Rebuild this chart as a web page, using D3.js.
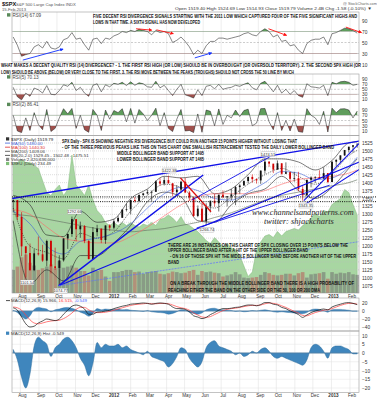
<!DOCTYPE html>
<html>
<head>
<meta charset="utf-8">
<script src="https://cdn.jsdelivr.net/npm/d3@7"></script>
<style>
  body { margin: 0; background: #fff; }
  svg { display: block; font-family: "Liberation Sans", Arial, sans-serif; }
</style>
</head>
<body>
<div id="chart"></div>
<script>
// Weekly samples (Fridays), Jul 2011 - Feb 2013
const weeks = d3.timeFriday.range(new Date(2011, 6, 22), new Date(2013, 1, 16));

const spxFirstOpen = 1340;
const spxHigh = [1347,1345,1307,1199,1208,1190,1230,1204,1220,1220, 1195,1171,1224,1239,1293,1285,1277,1266,1219,1260,
  1267,1255,1265,1269,1285,1296,1316,1334,1346,1355, 1363,1368,1378,1375,1407,1414,1419,1422,1398,1392,
  1406,1415,1374,1356,1328,1335,1335,1343,1364,1362, 1375,1357,1380,1390,1395,1407,1419,1426,1413,1438,
  1475,1468,1457,1470,1461,1464,1434,1434,1434,1389, 1409,1420,1420,1439,1448,1430,1467,1473,1486,1503, 1514,1518,1525];
const spxLow = [1306,1282,1168,1101,1122,1121,1170,1150,1136,1114, 1125,1075,1151,1191,1229,1215,1226,1209,1158,1159,
  1231,1209,1207,1248,1253,1275,1290,1309,1300,1337, 1340,1357,1363,1341,1371,1390,1391,1397,1358,1357,
  1367,1367,1343,1292,1291,1277,1267,1306,1324,1309, 1351,1325,1345,1329,1365,1391,1397,1400,1397,1396,
  1428,1450,1430,1441,1425,1427,1403,1403,1373,1343, 1363,1385,1399,1411,1412,1398,1402,1451,1462,1484, 1495,1495,1510];
const spxClose = [1345,1292,1199,1178,1124,1177,1174,1154,1216,1136, 1131,1155,1224,1238,1285,1253,1263,1216,1159,1244,
  1255,1219,1265,1258,1278,1289,1315,1316,1345,1342, 1361,1366,1370,1371,1404,1397,1408,1398,1370,1378,
  1403,1369,1353,1295,1318,1278,1325,1343,1335,1362, 1354,1357,1363,1386,1391,1405,1418,1411,1407,1438,
  1466,1460,1441,1461,1428,1433,1412,1414,1380,1360, 1409,1416,1418,1413,1430,1402,1466,1472,1486,1503, 1513,1518,1520];
const volumeB = [4.2,4.8,6.5,7.0,5.5,5.0,4.2,4.5,4.8,5.2, 4.5,5.8,4.6,4.8,5.0,4.6,4.0,4.0,3.2,4.6,
  4.0,4.2,3.0,2.2,3.8,3.8,4.0,4.2,4.2,3.8, 3.9,3.5,3.8,3.9,4.0,3.5,3.4,3.6,3.9,3.8,
  3.6,3.7,4.0,4.2,3.3,4.0,3.8,3.9,3.7,3.6, 3.0,3.2,3.4,3.8,3.4,2.8,2.7,2.8,2.9,3.3,
  3.8,3.6,3.3,3.2,3.3,3.5,3.5,3.2,3.6,3.8, 2.8,3.4,3.5,3.6,3.8,2.6,3.8,3.5,3.7,3.6, 3.8,3.4,3.3];
const overlayGreen = [87,87,89,87,87,85,83,75,67,65, 69,72,65,69,92,72,69,65,72,62,
  55,52,47,45,47,45,47,45,47,45, 44,46,45,47,45,49,50,52,50,47,
  51,46,45,43,41,38,35,33,37,34, 31,33,30,29,25,18,11,14,29,34,
  38,39,37,41,38,41,42,43,42,45, 47,50,53,51,55,54,59,61,63,69, 67,59,52];

// moving averages and bands, every fourth week
const maIdx = [0,4,8,12,16,20,24,28,32,36,40,44,48,52,56,60,64,68,72,76,80,82];
const ma50  = [1310,1270,1200,1175,1215,1225,1240,1270,1320,1365,1385,1375,1350,1345,1370,1400,1435,1430,1410,1415,1450,1480];
const ma100 = [1315,1300,1260,1225,1215,1210,1210,1230,1260,1295,1330,1355,1365,1365,1365,1375,1395,1410,1415,1420,1430,1440];
const ma200 = [1300,1295,1285,1275,1265,1255,1250,1245,1250,1255,1265,1275,1290,1305,1325,1345,1360,1370,1380,1390,1400,1409];
const bbUpper = [1360,1330,1235,1230,1310,1275,1285,1350,1380,1420,1415,1420,1365,1380,1425,1475,1475,1465,1440,1470,1525,1529];
const bbMid   = [1320,1200,1180,1160,1240,1225,1245,1310,1360,1395,1385,1340,1320,1355,1395,1425,1445,1420,1395,1430,1485,1502];
const bbLower = [1280,1080,1125,1090,1170,1170,1210,1265,1340,1370,1355,1280,1275,1330,1365,1380,1420,1375,1350,1385,1445,1475];

const rsi14 = [60,45,25,28,30,42,46,40,52,40, 38,42,55,58,68,56,58,46,36,56,
  58,48,58,56,62,65,70,68,72,70, 74,72,70,64,72,68,70,66,50,54,
  60,52,42,28,36,30,44,52,52,58, 58,56,58,60,62,66,68,64,62,70,
  75,70,60,64,52,54,44,46,36,30, 48,54,56,56,60,46,66,68,72,76, 75,72,67];
const rsi5 = [58,20,8,35,22,55,48,35,65,30, 28,45,68,62,78,45,58,35,22,66,
  72,40,68,60,74,70,78,65,80,66, 76,72,60,58,82,56,66,45,25,50,
  70,28,22,15,48,25,62,66,52,70, 50,55,58,66,62,70,76,56,48,74,
  82,62,40,66,35,50,30,45,25,18, 72,60,58,55,66,25,78,72,80,82, 78,66,70];
const rsi2 = [70,10,4,60,12,80,35,15,92,8, 20,60,95,75,96,20,70,15,5,92,
  70,12,90,55,88,80,95,45,96,40, 92,75,50,70,97,30,80,20,8,55,
  92,10,12,4,75,5,90,85,30,94, 35,70,60,90,65,88,93,30,40,95,
  96,45,15,80,12,50,10,55,8,5, 95,70,60,35,85,6,97,80,94,95, 90,60,86];

const macdLine = [8,2,-15,-32,-40,-38,-30,-25,-20,-22, -24,-20,-8,2,12,15,12,5,-8,-8,
  -3,-2,0,2,6,9,12,14,17,18, 19,20,19,17,19,20,19,17,10,6,
  6,4,-2,-12,-15,-19,-16,-9,-4,2, 6,6,7,9,10,13,15,15,13,16,
  21,21,17,15,9,6,0,-4,-9,-16, -10,-4,0,3,5,3,10,14,17,20, 21,19,16];
const macdSignal = [10,8,2,-10,-22,-30,-32,-30,-27,-25, -24,-23,-19,-13,-5,4,9,9,3,-2,
  -4,-4,-3,-1,2,5,8,11,14,16, 17,18,19,18,18,19,19,18,15,11,
  8,6,2,-5,-10,-15,-16,-14,-9,-4, 1,4,6,7,9,11,13,14,14,15,
  18,20,19,17,13,9,4,-1,-5,-11, -12,-8,-4,-1,2,3,6,10,14,17, 19,19,17];
const macdHist = [2,-4,-14,-20,-12,4,9,7,5,-2, 3,5,8,9,7,3,-3,-7,-13,-6,
  6,3,5,4,4,5,3,4,2,1, 0,-1,1,-2,-3,-4,-5,-8,-6,-2,
  3,2,-3,-6,-8,-5,3,6,7,4, 3,2,1,-1,0,-2,-1,1,0,2,
  3,1,-2,-3,-2,-3,-4,-5,-6,-7, -4,3,5,4,1,-3,3,4,4,3, 2,-0.5,-0.5];

// tick labels
const rsiTicks = [90, 70, 50, 30, 10];
const priceTicks = d3.range(1075, 1526, 25);
const macdTicks = [20, 0, -20, -40];
const histTicks = [10, 5, 0, -5, -10, -15, -20];

// annotations in data units
const rsiArrows = [
  { from: ['2011-08-05', 18], to: ['2011-10-11', 38], color: 'blue' },
  { from: ['2012-02-10', 75], to: ['2012-03-07', 72.5], color: 'red' },
  { from: ['2012-03-15', 73], to: ['2012-04-12', 66], color: 'red' },
  { from: ['2012-05-18', 22], to: ['2012-06-15', 31], color: 'blue' },
  { from: ['2012-09-18', 75], to: ['2012-10-18', 63], color: 'red' },
  { from: ['2013-01-25', 78], to: ['2013-02-20', 68], color: 'red' }
];
const trendLines = [
  { from: ['2011-07-18', 1350], to: ['2013-02-20', 1532], color: '#1010e8', w: 1.3 },
  { from: ['2011-10-04', 1075], to: ['2012-06-01', 1424], color: '#1010e8', w: 1.5 },
  { from: ['2011-10-04', 1075], to: ['2013-02-20', 1468], color: '#1010e8', w: 1.1 },
  { from: ['2011-10-04', 1075], to: ['2013-02-20', 1215], color: '#6070ff', w: 0.7, dash: '2,1' },
  { from: ['2012-05-13', 1345], to: ['2012-09-20', 1481], color: '#1010e8', w: 0.9 },
  { from: ['2012-05-21', 1257], to: ['2012-12-29', 1392], color: '#1010e8', w: 0.9 },
  { from: ['2012-11-16', 1343], to: ['2013-02-20', 1531], color: '#1010e8', w: 1.1 },
  { from: ['2012-11-10', 1322], to: ['2013-02-20', 1446], color: '#1010e8', w: 1.1 },
  { from: ['2012-04-24', 1415], to: ['2012-06-14', 1308], color: '#e01010', w: 1.4 }
];
const supportLevels = [1355, 1340];
const priceTags = [
  { date: '2011-10-27', price: 1292.66, side: 'above' },
  { date: '2011-10-04', price: 1074.77, side: 'below' },
  { date: '2011-08-09', price: 1101.54, side: 'below' },
  { date: '2012-04-02', price: 1422.38, side: 'above' },
  { date: '2012-06-04', price: 1266.74, side: 'below' },
  { date: '2012-09-14', price: 1474.51, side: 'above' },
  { date: '2012-11-16', price: 1343.35, side: 'below' }
];

function renderChart(containerId) {
  const W = 377, H = 400, L = 12, R = 359;
  const parse = d3.timeParse('%Y-%m-%d');
  const svg = d3.select(`#${containerId}`).append('svg').attr('width', W).attr('height', H);
  svg.append('rect').attr('width', W).attr('height', H).attr('fill', '#fff');
  const defs = svg.append('defs');
  ['blue', 'red'].forEach(c => {
    defs.append('marker').attr('id', 'arr-' + c).attr('viewBox', '0 0 10 10')
      .attr('refX', 8).attr('refY', 5).attr('markerWidth', 4).attr('markerHeight', 4)
      .attr('orient', 'auto').append('path').attr('d', 'M0,0L10,5L0,10z')
      .attr('fill', c === 'blue' ? '#1030ff' : '#ff1010');
  });

  const x = d3.scaleTime().domain([new Date(2011, 6, 18), new Date(2013, 1, 16)]).range([L, R]);
  const xw = i => x(d3.timeDay.offset(weeks[i], -2));
  const months = d3.timeMonth.range(new Date(2011, 7, 1), new Date(2013, 1, 16));

  function panel(name, top, bottom) {
    const g = svg.append('g');
    defs.append('clipPath').attr('id', 'clip-' + name).append('rect')
      .attr('x', L).attr('y', top).attr('width', R - L).attr('height', bottom - top);
    g.selectAll('line.vg').data(months).join('line')
      .attr('x1', d => x(d)).attr('x2', d => x(d)).attr('y1', top).attr('y2', bottom)
      .attr('stroke', '#e2e2e2').attr('stroke-width', 0.6);
    const body = g.append('g').attr('clip-path', `url(#clip-${name})`);
    return { g, body, top, bottom };
  }
  function frame(p) {
    p.g.append('rect').attr('x', L).attr('y', p.top).attr('width', R - L).attr('height', p.bottom - p.top)
      .attr('fill', 'none').attr('stroke', '#9c9c9c').attr('stroke-width', 0.6);
  }
  function rightAxis(p, y, ticks) {
    const a = p.g.append('g').attr('transform', `translate(${R},0)`)
      .call(d3.axisRight(y).tickValues(ticks).tickSize(0).tickPadding(3).tickFormat(d3.format('d')));
    a.select('.domain').remove();
    a.selectAll('text').attr('font-size', 4.8).attr('fill', '#333');
  }
  function hline(p, yv, color, dash, w) {
    p.body.append('line').attr('x1', L).attr('x2', R).attr('y1', yv).attr('y2', yv)
      .attr('stroke', color).attr('stroke-width', w || 0.5).attr('stroke-dasharray', dash || null);
  }
  function label(txt, xx, yy, opts = {}) {
    const t = svg.append('text').attr('x', xx).attr('y', yy).attr('font-size', opts.size || 4.6)
      .attr('font-weight', opts.bold ? 'bold' : null).attr('fill', opts.color || '#222')
      .attr('font-style', opts.italic ? 'italic' : null)
      .attr('font-family', opts.family || null)
      .text(txt);
    if (opts.fit) {
      // size the font so the natural width matches the span it covers in the chart
      const natural = t.node().getComputedTextLength();
      t.attr('font-size', (opts.size || 4.6) * opts.fit / natural);
    } else if (opts.w) {
      t.attr('textLength', opts.w).attr('lengthAdjust', 'spacingAndGlyphs');
    }
    return t;
  }
  function panelTag(txt, yy, color) {
    svg.append('rect').attr('x', 7).attr('y', yy - 3.4).attr('width', 3.4).attr('height', 3.4)
      .attr('fill', color || '#5a8a5a');
    label(txt, 12.5, yy, { size: 4.6, color: '#444' });
  }

  // ---- RSI panels ----
  function rsiPanel(name, top, bottom, y, values, tag) {
    const p = panel(name, top, bottom);
    hline(p, y(70), '#9a9a9a');
    hline(p, y(50), '#9a9a9a', '2,1.5');
    hline(p, y(30), '#9a9a9a');
    defs.append('clipPath').attr('id', 'ob-' + name).append('rect')
      .attr('x', L).attr('y', top).attr('width', R - L).attr('height', y(70) - top);
    defs.append('clipPath').attr('id', 'os-' + name).append('rect')
      .attr('x', L).attr('y', y(30)).attr('width', R - L).attr('height', bottom - y(30));
    const line = d3.line().x((d, i) => xw(i)).y(d => y(d));
    p.body.append('path').datum(values).attr('clip-path', `url(#ob-${name})`)
      .attr('d', d3.area().x((d, i) => xw(i)).y0(y(70)).y1(d => y(d)))
      .attr('fill', '#5f9d5c');
    p.body.append('path').datum(values).attr('clip-path', `url(#os-${name})`)
      .attr('d', d3.area().x((d, i) => xw(i)).y0(y(30)).y1(d => y(d)))
      .attr('fill', '#a0504c');
    p.body.append('path').datum(values).attr('d', line)
      .attr('fill', 'none').attr('stroke', '#222').attr('stroke-width', 0.55);
    rightAxis(p, y, rsiTicks.filter(t => y(t) > top && y(t) < bottom + 3));
    frame(p);
    panelTag(tag, top + 4.6);
    return p;
  }

  const yR14 = d3.scaleLinear().domain([0, 100]).range([70, 15]);
  const pR14 = rsiPanel('r14', 12, 62, yR14, rsi14, 'RSI(14) 67.09');
  rsiArrows.forEach(a => {
    pR14.g.append('line')
      .attr('x1', x(parse(a.from[0]))).attr('y1', yR14(a.from[1]))
      .attr('x2', x(parse(a.to[0]))).attr('y2', yR14(a.to[1]))
      .attr('stroke', a.color === 'blue' ? '#1030ff' : '#ff1010').attr('stroke-width', 0.9)
      .attr('marker-end', `url(#arr-${a.color})`);
  });

  const yR5 = d3.scaleLinear().domain([0, 100]).range([101.8, 76.8]);
  rsiPanel('r5', 74, 101.5, yR5, rsi5, 'RSI(5) 70.13');
  const yR2 = d3.scaleLinear().domain([0, 100]).range([133.6, 107.4]);
  rsiPanel('r2', 101.5, 135.5, yR2, rsi2, 'RSI(2) 86.41');

  // ---- price panel ----
  const pP = panel('price', 135.5, 293);
  const yP = d3.scaleLinear().domain([1075, 1525]).range([285.7, 143]);
  const yG = d3.scaleLinear().domain([0, 100]).range([293, 143]);
  const yV = d3.scaleLinear().domain([0, 10]).range([293, 238]);

  pP.body.append('path').datum(overlayGreen)
    .attr('d', d3.area().x((d, i) => xw(i)).y0(293).y1(d => yG(d)))
    .attr('fill', '#a8d6a2').attr('stroke', '#82bb7c').attr('stroke-width', 0.5);

  priceTicks.forEach(t => hline(pP, yP(t), '#bdbdbd', '1,1', 0.5));
  rightAxis(pP, yP, priceTicks);

  const spxOpen = spxClose.map((c, i) => i === 0 ? spxFirstOpen : spxClose[i - 1]);
  pP.body.selectAll('rect.vol').data(volumeB).join('rect')
    .attr('x', (d, i) => xw(i) - 1.8).attr('width', 3.6)
    .attr('y', d => yV(d)).attr('height', d => 293 - yV(d))
    .attr('fill', (d, i) => spxClose[i] < spxOpen[i] ? '#b85a58' : '#6d6d6d')
    .attr('opacity', 0.55);

  const maLine = d3.line().x((d, k) => xw(maIdx[k])).y(d => yP(d)).curve(d3.curveMonotoneX);
  [[bbUpper, '#222', null], [bbLower, '#222', null], [bbMid, '#222', '1.2,1'],
   [ma200, '#5d6d5a', null], [ma100, '#ff6464', null], [ma50, '#3d5fd8', null]].forEach(([s, c, dash]) => {
    pP.body.append('path').datum(s).attr('d', maLine).attr('fill', 'none')
      .attr('stroke', c).attr('stroke-width', 0.6).attr('stroke-dasharray', dash);
  });

  supportLevels.forEach(v => {
    svg.append('line').attr('x1', L).attr('x2', W).attr('y1', yP(v)).attr('y2', yP(v))
      .attr('stroke', '#111').attr('stroke-width', 1).attr('stroke-dasharray', '1,1.2');
  });

  const candles = pP.body.selectAll('g.cdl').data(spxClose).join('g');
  const cColor = i => spxClose[i] < spxOpen[i] ? '#d00000' : '#111';
  candles.append('line')
    .attr('x1', (d, i) => xw(i)).attr('x2', (d, i) => xw(i))
    .attr('y1', (d, i) => yP(spxHigh[i])).attr('y2', (d, i) => yP(spxLow[i]))
    .attr('stroke', (d, i) => cColor(i)).attr('stroke-width', 0.6);
  candles.append('rect')
    .attr('x', (d, i) => xw(i) - 0.9).attr('width', 1.8)
    .attr('y', (d, i) => yP(Math.max(spxOpen[i], d)))
    .attr('height', (d, i) => Math.max(0.7, Math.abs(yP(spxOpen[i]) - yP(d))))
    .attr('fill', (d, i) => cColor(i));

  trendLines.forEach(t => {
    pP.body.append('line')
      .attr('x1', x(parse(t.from[0]))).attr('y1', yP(t.from[1]))
      .attr('x2', x(parse(t.to[0]))).attr('y2', yP(t.to[1]))
      .attr('stroke', t.color).attr('stroke-width', t.w).attr('stroke-dasharray', t.dash || null);
  });

  priceTags.forEach(t => {
    const cx = x(parse(t.date)) + 2, cy = yP(t.price) + (t.side === 'above' ? -5 : 5);
    const txt = t.price.toFixed(2);
    svg.append('rect').attr('x', cx - 7).attr('y', cy - 2.4).attr('width', 14).attr('height', 4.8)
      .attr('fill', '#fff').attr('stroke', '#999').attr('stroke-width', 0.4).attr('rx', 0.8);
    svg.append('text').attr('x', cx).attr('y', cy + 1.5).attr('text-anchor', 'middle')
      .attr('font-size', 4).attr('fill', '#333').text(txt);
  });
  frame(pP);

  // legend
  const legend = [
    ['$SPX (Daily) 1519.79', '#222', 'candle'],
    ['MA(50) 1480.00', '#3d5fd8', 'line'],
    ['MA(100) 1440.30', '#e03030', 'line'],
    ['MA(200) 1409.06', '#444', 'line'],
    ['BB(20,2.0) 1529.45 - 1502.48 - 1475.51', '#333', 'line'],
    ['Volume 2,420,636,000', '#333', 'box'],
    ['$XEU (Daily) 234.49', '#333', 'green']
  ];
  legend.forEach(([t, c, kind], k) => {
    const yy = 140.5 + k * 4.1;
    if (kind === 'line') {
      svg.append('line').attr('x1', 5).attr('x2', 10).attr('y1', yy - 1.5).attr('y2', yy - 1.5)
        .attr('stroke', c).attr('stroke-width', 0.8);
    } else {
      svg.append('rect').attr('x', 6).attr('y', yy - 3.2).attr('width', 3.2).attr('height', 3.2)
        .attr('fill', kind === 'green' ? '#7fbf78' : kind === 'box' ? '#888' : '#333');
    }
    label(t, 11, yy, { size: 4.4, color: c });
  });

  // ---- MACD panel ----
  const pM = panel('macd', 298, 331);
  const yM = d3.scaleLinear().domain([-40, 20]).range([327, 303]);
  macdTicks.forEach(t => hline(pM, yM(t), '#e2e2e2'));
  pM.body.append('path').datum(macdHist)
    .attr('d', d3.area().x((d, i) => xw(i)).y0(yM(0)).y1(d => yM(d)).curve(d3.curveMonotoneX))
    .attr('fill', '#3f86bd').attr('stroke', '#2a6a9a').attr('stroke-width', 0.4);
  hline(pM, yM(0), '#6a8fb0', null, 0.6);
  pM.body.append('path').datum(macdSignal)
    .attr('d', d3.line().x((d, i) => xw(i)).y(d => yM(d)).curve(d3.curveMonotoneX))
    .attr('fill', 'none').attr('stroke', '#ff4040').attr('stroke-width', 0.7);
  pM.body.append('path').datum(macdLine)
    .attr('d', d3.line().x((d, i) => xw(i)).y(d => yM(d)).curve(d3.curveMonotoneX))
    .attr('fill', 'none').attr('stroke', '#111').attr('stroke-width', 0.7);
  rightAxis(pM, yM, macdTicks);
  frame(pM);
  svg.append('line').attr('x1', 6).attr('x2', 10).attr('y1', 300.6).attr('y2', 300.6).attr('stroke', '#222').attr('stroke-width', 0.8);
  const mt = svg.append('text').attr('x', 11).attr('y', 302).attr('font-size', 4.4).attr('fill', '#333');
  mt.append('tspan').text('MACD(12,26,9) 15.966, ');
  mt.append('tspan').attr('fill', '#ff3030').text('16.515, ');
  mt.append('tspan').attr('fill', '#4060ff').text('-0.549');

  // ---- MACD histogram panel ----
  const pH = panel('hist', 331, 392.5);
  const yH = d3.scaleLinear().domain([-20, 10]).range([388, 335.5]);
  histTicks.forEach(t => hline(pH, yH(t), '#e2e2e2'));
  pH.body.append('path').datum(macdHist)
    .attr('d', d3.area().x((d, i) => xw(i)).y0(yH(0)).y1(d => yH(d)).curve(d3.curveMonotoneX))
    .attr('fill', '#3f86bd').attr('stroke', '#2a6a9a').attr('stroke-width', 0.5);
  hline(pH, yH(0), '#6a8fb0', null, 0.6);
  rightAxis(pH, yH, histTicks);
  frame(pH);
  svg.append('rect').attr('x', 6).attr('y', 331.6).attr('width', 3.2).attr('height', 3.2).attr('fill', '#3f86bd');
  label('MACD(12,26,9) Hist -0.549', 11, 334.8, { size: 4.4, color: '#333' });

  // ---- date axes ----
  const fmtMonth = d => d.getMonth() === 0 ? String(d.getFullYear()) : d3.timeFormat('%b')(d);
  [[293, 1.6], [392.5, 0.8]].forEach(([yy, pad]) => {
    const a = svg.append('g').attr('transform', `translate(1.5,${yy})`)
      .call(d3.axisBottom(x).tickValues(months).tickFormat(fmtMonth).tickSize(0).tickPadding(pad));
    a.select('.domain').remove();
    a.selectAll('text').attr('font-size', 4.6).attr('fill', '#333')
      .attr('font-weight', d => d.getMonth() === 0 ? 'bold' : null);
  });

  // ---- header ----
  label('$SPX', 2, 5.6, { size: 5.6, bold: true, color: '#111' });
  label('S&P 500 Large Cap Index  INDX', 16, 5.6, { size: 4.2, color: '#555' });
  label('15-Feb-2013', 2, 10.6, { size: 4.2, color: '#555' });
  label('@ StockCharts.com', 343, 5, { size: 3.8, color: '#666' });
  label('Open 1519.40  High 1524.69  Low 1514.93  Close 1519.79  Volume 2.4B  Chg -1.58 (-0.10%) \u25BC',
    175, 10, { size: 4.4, color: '#333', w: 197 });

  // ---- annotations ----
  const notes = [
    ['FIVE DECENT RSI DIVERGENCE SIGNALS STARTING WITH THE 2011 LOW WHICH CAPTURED FOUR OF THE FIVE SIGNIFICANT HIGHS AND', 93, 17.8, 264],
    ['LOWS IN THAT TIME. A SIXTH SIGNAL HAS NOW DEVELOPED', 93, 24, 107],
    ['WHAT MAKES A DECENT QUALITY RSI (14) DIVERGENCE? - 1. THE FIRST RSI HIGH (OR LOW) SHOULD BE IN OVERBOUGHT (OR OVERSOLD TERRITORY). 2. THE SECOND SPX HIGH (OR', 1, 67.4, 360],
    ['LOW) SHOULD BE ABOVE (BELOW) OR VERY CLOSE TO THE FIRST. 3. THE RSI MOVE BETWEEN THE PEAKS (TROUGHS) SHOULD NOT CROSS THE 50 LINE BY MUCH', 1, 74, 293],
    ['SPX Daily - SPX IS SHOWING NEGATIVE RSI DIVERGENCE BUT COULD RUN ANOTHER 15 POINTS HIGHER WITHOUT LOSING THAT', 62, 142.6, 235],
    ['- OF THE THREE PREVIOUS PEAKS LIKE THIS ON THIS CHART ONE SMALLISH RETRACEMENT TESTED THE DAILY LOWER BOLLINGER BAND', 62, 148.8, 272],
    ['MIDDLE BOLLINGER BAND SUPPORT AT 1495', 117, 155.4, 87],
    ['LOWER BOLLINGER BAND SUPPORT AT 1465', 117, 161, 87],
    ['THERE ARE 26 INSTANCES ON THIS CHART OF SPX CLOSING OVER 15 POINTS BELOW THE', 168, 246.5, 180],
    ['UPPER BOLLINGER BAND AFTER A HIT OF THE UPPER BOLLINGER BAND', 168, 252.2, 140],
    ['- ON 16 OF THOSE SPX HIT THE MIDDLE BOLLINGER BAND BEFORE ANOTHER HIT OF THE UPPER', 170, 257.8, 186],
    ['BAND', 168, 263.6, 11],
    ['ON A BREAK THROUGH THE MIDDLE BOLLINGER BAND THERE IS A HIGH PROBABILITY OF', 170, 284.6, 184],
    ['REACHING EITHER THE BAND ON THE OTHER SIDE OR THE 50, 100 OR 200 DMA', 168, 291.6, 152]
  ];
  notes.forEach(([t, xx, yy, w]) => label(t, xx, yy, { size: 4.8, bold: true, color: '#111', w }));

  const serif = '"Liberation Serif", "DejaVu Serif", serif';
  label('www.channelsandpatterns.com', 252, 215, { size: 10, italic: true, color: '#2a2a2a', family: serif, fit: 102 });
  label('twitter: shjackcharts', 264, 223.6, { size: 9, italic: true, color: '#2a2a2a', family: serif, fit: 70 });
}

renderChart('chart');
</script>
</body>
</html>
